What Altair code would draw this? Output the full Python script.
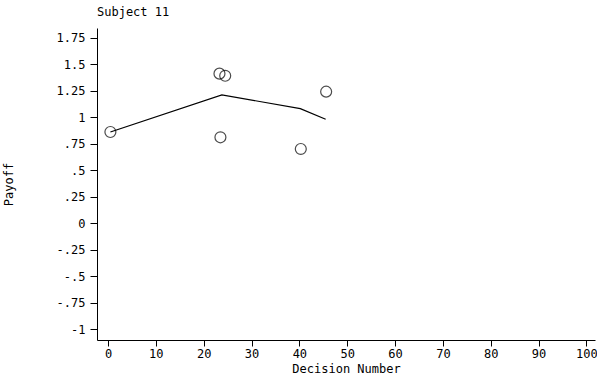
import altair as alt
import pandas as pd

# Observed points (decision number, payoff)
pt_x = [0.5, 23.3, 24.5, 23.5, 40.3, 45.6]
pt_y = [0.86, 1.41, 1.39, 0.81, 0.70, 1.24]

# Smoothed line
ln_x = [0.5, 23.8, 40.2, 45.5]
ln_y = [0.86, 1.21, 1.08, 0.98]

x_ticks = [0, 10, 20, 30, 40, 50, 60, 70, 80, 90, 100]
y_ticks = [-1, -0.75, -0.5, -0.25, 0, 0.25, 0.5, 0.75, 1, 1.25, 1.5, 1.75]

FONT = "DejaVu Sans Mono"

pts = pd.DataFrame({"x": pt_x, "y": pt_y})
lns = pd.DataFrame({"x": ln_x, "y": ln_y})

xs = alt.Scale(domain=[-2.3, 101.8], nice=False, zero=False)
ys = alt.Scale(domain=[-1.10, 1.84], nice=False, zero=False)

xax = alt.Axis(values=x_ticks, title="Decision Number", grid=False, tickSize=6,
               domainColor="black", tickColor="black", labelColor="black",
               titleColor="black", labelFont=FONT, titleFont=FONT, labelFontSize=12,
               titleFontSize=12, titleFontWeight="normal", labelPadding=2,
               titlePadding=4, labelFlush=False, labelOverlap=False)
yax = alt.Axis(values=y_ticks, title="Payoff", grid=False, tickSize=7,
               domainColor="black", tickColor="black", labelColor="black",
               titleColor="black", labelFont=FONT, titleFont=FONT, labelFontSize=12,
               titleFontSize=12, titleFontWeight="normal", labelPadding=5,
               titleX=-82, labelFlush=False, labelOverlap=False,
               labelExpr="replace(replace(format(datum.value, '.2~f'), '0.', '.'), '\u2212', '-')")

X = alt.X("x:Q", scale=xs, axis=xax)
Y = alt.Y("y:Q", scale=ys, axis=yax)

line = alt.Chart(lns).mark_line(color="black", strokeWidth=1.2).encode(x=X, y=Y)
points = alt.Chart(pts).mark_point(shape="circle", filled=False, color="black",
                                   size=120, strokeWidth=1.2).encode(x=X, y=Y)

chart = (line + points).properties(
    width=498, height=312,
    autosize=alt.AutoSizeParams(type="none"),
    padding={"left": 97, "top": 28, "right": 2, "bottom": 38},
    title=alt.TitleParams("Subject 11", anchor="start", frame="group", font=FONT,
                          fontSize=12, fontWeight="normal", color="black", offset=9),
).configure(background="white").configure_view(stroke=None)

chart.save("out.html", embed_options={"renderer": "svg", "actions": False})
